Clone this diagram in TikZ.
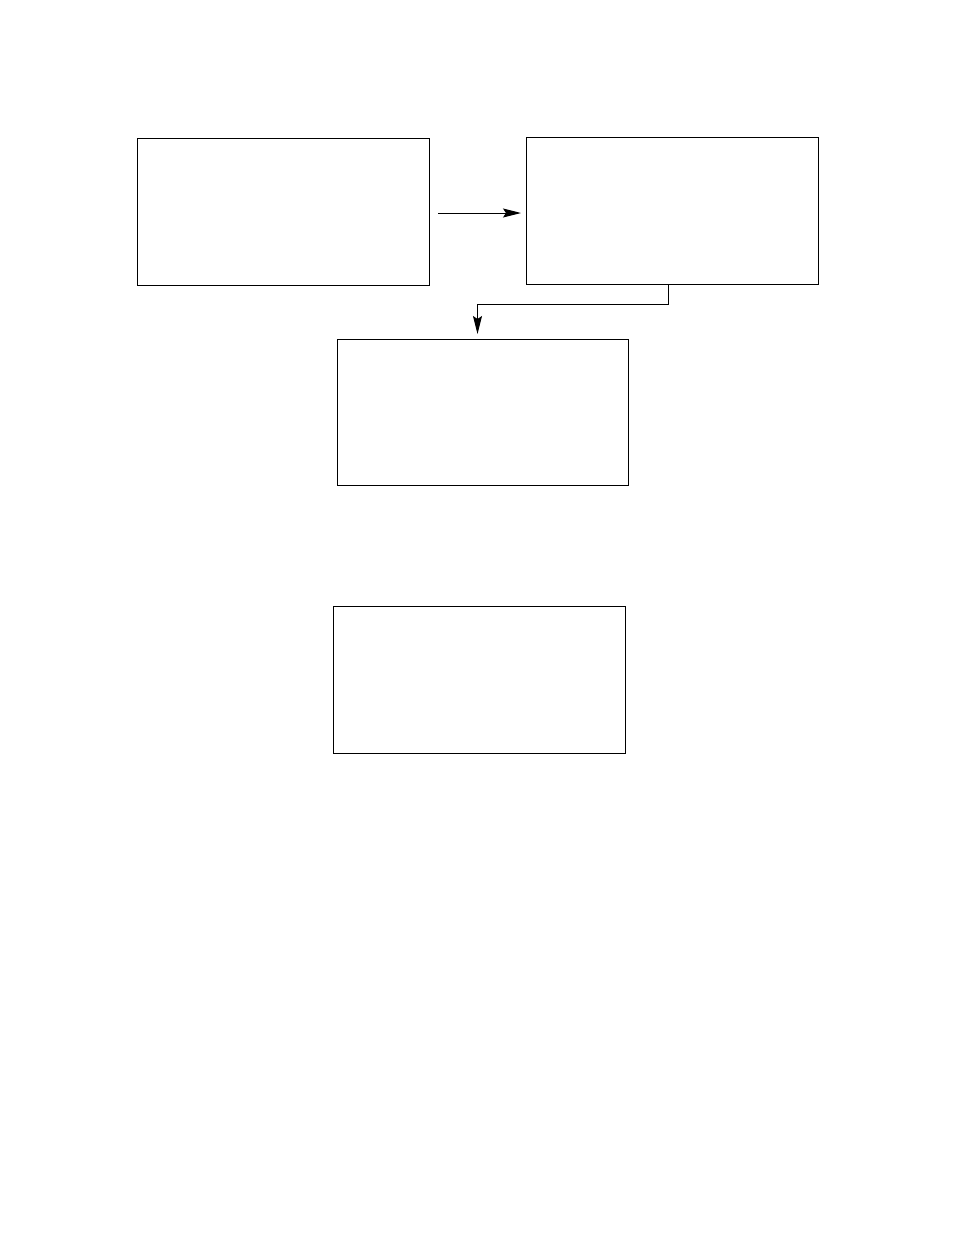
\documentclass[tikz,border=0pt]{standalone}
\usetikzlibrary{arrows.meta}
\begin{document}
\begin{tikzpicture}[x=1pt,y=-1pt,
  box/.style={draw=black,line width=1pt,inner sep=0pt,minimum width=292pt,minimum height=147pt,anchor=north west},
  conn/.style={draw=black,line width=1pt,-{Stealth[length=18pt,width=9pt,inset=3pt]}}]
\useasboundingbox[fill=white] (0,0) rectangle (954,1235);
\node[box] (A) at (137,138) {};
\node[box] (B) at (526,137) {};
\node[box,minimum width=291pt,minimum height=146pt] (C) at (337,339) {};
\node[box] (D) at (333,606) {};
\coordinate (Aout) at ([yshift=-1pt]A.east);
\draw[conn,shorten <=8pt,shorten >=5pt] (Aout) -- (Aout -| B.west);
\coordinate (Bout) at ([xshift=-4pt]B.south);
\coordinate (Cin) at ([xshift=-5.5pt,yshift=5pt]C.north);
\draw[conn] (Bout) -- ++(0,19.5) -| (Cin);
\end{tikzpicture}
\end{document}
